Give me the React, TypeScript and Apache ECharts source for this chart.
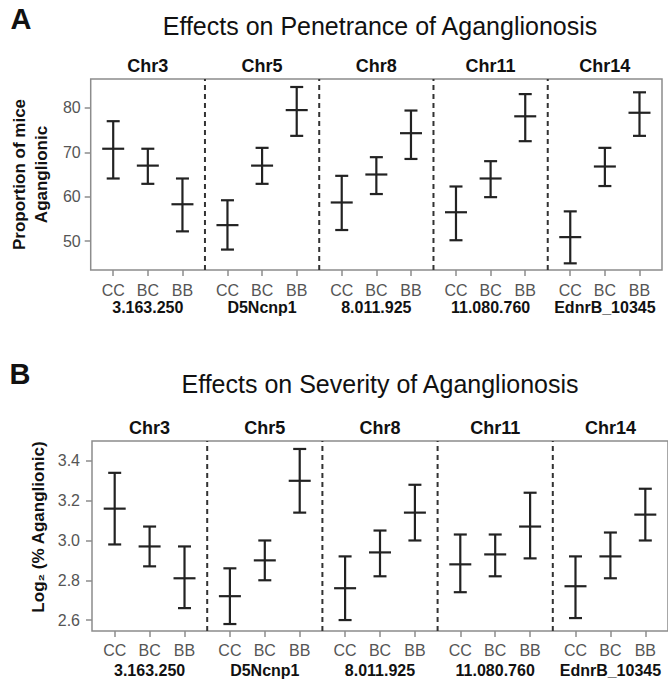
import React, { useEffect, useRef } from "react";
import * as echarts from "echarts";

const chromosomes = ["Chr3", "Chr5", "Chr8", "Chr11", "Chr14"];
const markers = ["3.163.250", "D5Ncnp1", "8.011.925", "11.080.760", "EdnrB_10345"];
const genotypes = ["CC", "BC", "BB"];

// Panel A — proportion of mice aganglionic: [chromosome][genotype]
const penetranceLow = [
  [64.1, 62.9, 52.2],
  [48.1, 62.9, 73.7],
  [52.5, 60.6, 68.5],
  [50.2, 59.9, 72.5],
  [45.0, 62.4, 73.7],
];
const penetranceMean = [
  [70.8, 67.0, 58.3],
  [53.6, 67.0, 79.5],
  [58.7, 65.0, 74.3],
  [56.5, 64.1, 78.1],
  [50.9, 66.8, 78.9],
];
const penetranceHigh = [
  [77.0, 70.8, 64.1],
  [59.2, 71.0, 84.7],
  [64.7, 68.9, 79.4],
  [62.3, 68.0, 83.1],
  [56.7, 71.0, 83.5],
];

// Panel B — log2 (% aganglionic): [chromosome][genotype]
const severityLow = [
  [2.98, 2.87, 2.66],
  [2.58, 2.8, 3.14],
  [2.6, 2.82, 3.0],
  [2.74, 2.82, 2.91],
  [2.61, 2.81, 3.0],
];
const severityMean = [
  [3.16, 2.97, 2.81],
  [2.72, 2.9, 3.3],
  [2.76, 2.94, 3.14],
  [2.88, 2.93, 3.07],
  [2.77, 2.92, 3.13],
];
const severityHigh = [
  [3.34, 3.07, 2.97],
  [2.86, 3.0, 3.46],
  [2.92, 3.05, 3.28],
  [3.03, 3.03, 3.24],
  [2.92, 3.04, 3.26],
];

const penetranceTicks = [50, 60, 70, 80];
const severityTicks = [2.6, 2.8, 3.0, 3.2, 3.4];
const penetranceRange = [43.5, 86.5];
const severityRange = [2.545, 3.5];

const SPAN = 3.3;
const OFFSET = 0.65;
const FONT = "'Liberation Sans', Arial, sans-serif";
const BAR = "#222";

const genoPos = (p: number, k: number) => p * SPAN + OFFSET + k;
const panelCenter = (p: number) => p * SPAN + SPAN / 2;

const buildData = (lo: number[][], mean: number[][], hi: number[][]) => {
  const out: number[][] = [];
  chromosomes.forEach((_, p) =>
    genotypes.forEach((_, k) => out.push([genoPos(p, k), lo[p][k], mean[p][k], hi[p][k]]))
  );
  return out;
};

const genoValues: number[] = [];
chromosomes.forEach((_, p) => genotypes.forEach((_, k) => genoValues.push(genoPos(p, k))));
const centerValues = chromosomes.map((_, p) => panelCenter(p));
const dividerValues = chromosomes.slice(1).map((_, i) => (i + 1) * SPAN);

const panelIndex = (v: number) => Math.min(chromosomes.length - 1, Math.max(0, Math.floor((v + 1e-6) / SPAN)));
const genoLabel = (v: number) => {
  const p = panelIndex(v);
  const k = Math.round(v - p * SPAN - OFFSET);
  return genotypes[k] ?? "";
};

const errorRender = (params: any, api: any) => {
  const x = api.value(0);
  const lo = api.coord([x, api.value(1)]);
  const mid = api.coord([x, api.value(2)]);
  const hi = api.coord([x, api.value(3)]);
  const style = { stroke: BAR, lineWidth: 2.2 };
  return {
    type: "group",
    children: [
      { type: "line", shape: { x1: lo[0], y1: lo[1], x2: hi[0], y2: hi[1] }, style },
      { type: "line", shape: { x1: hi[0] - 6.5, y1: hi[1], x2: hi[0] + 6.5, y2: hi[1] }, style },
      { type: "line", shape: { x1: lo[0] - 6.5, y1: lo[1], x2: lo[0] + 6.5, y2: lo[1] }, style },
      { type: "line", shape: { x1: mid[0] - 11, y1: mid[1], x2: mid[0] + 11, y2: mid[1] }, style },
    ],
  };
};

const dividerRender = (params: any, api: any) => {
  const x = api.value(0);
  const a = api.coord([x, api.value(1)]);
  const b = api.coord([x, api.value(2)]);
  return {
    type: "line",
    shape: { x1: a[0], y1: a[1], x2: b[0], y2: b[1] },
    style: { stroke: "#333", lineWidth: 2, lineDash: [5, 4] },
  };
};

const xAxesFor = (gridIndex: number, labelMargin: number, markerMargin: number, chrMargin: number) => [
  {
    gridIndex,
    type: "value",
    min: 0,
    max: SPAN * chromosomes.length,
    position: "bottom",
    axisLine: { show: false },
    splitLine: { show: false },
    axisTick: { show: true, length: 6, customValues: genoValues, lineStyle: { color: "#8c8c8c", width: 1.5 } },
    axisLabel: {
      customValues: genoValues,
      formatter: (v: number) => genoLabel(v),
      color: "#555",
      fontSize: 16,
      fontFamily: FONT,
      margin: labelMargin,
    },
  },
  {
    gridIndex,
    type: "value",
    min: 0,
    max: SPAN * chromosomes.length,
    position: "bottom",
    axisLine: { show: false },
    splitLine: { show: false },
    axisTick: { show: false },
    axisLabel: {
      customValues: centerValues,
      formatter: (v: number) => markers[panelIndex(v)],
      color: "#111",
      fontSize: 16,
      fontWeight: "bold",
      fontFamily: FONT,
      margin: markerMargin,
    },
  },
  {
    gridIndex,
    type: "value",
    min: 0,
    max: SPAN * chromosomes.length,
    position: "top",
    axisLine: { show: false },
    splitLine: { show: false },
    axisTick: { show: false },
    axisLabel: {
      customValues: centerValues,
      formatter: (v: number) => chromosomes[panelIndex(v)],
      color: "#111",
      fontSize: 18,
      fontWeight: "bold",
      fontFamily: FONT,
      margin: chrMargin,
    },
  },
];

export default function App() {
  const ref = useRef<HTMLDivElement>(null);

  useEffect(() => {
    if (!ref.current) return;
    const chart = echarts.init(ref.current, null, { renderer: "svg" });
    const gridStyle = { show: true, borderColor: "#8c8c8c", borderWidth: 1.5, backgroundColor: "transparent" };
    const option: any = {
      animation: false,
      backgroundColor: "#fff",
      grid: [
        { ...gridStyle, left: 84, top: 79, width: 578, height: 191 },
        { ...gridStyle, left: 92, top: 441, width: 583, height: 190 },
      ],
      xAxis: [...xAxesFor(0, 12, 29, 4), ...xAxesFor(1, 11, 31, 4)],
      yAxis: [
        {
          gridIndex: 0,
          type: "value",
          min: penetranceRange[0],
          max: penetranceRange[1],
          axisLine: { show: false },
          splitLine: { show: false },
          axisTick: { show: true, length: 6, customValues: penetranceTicks, lineStyle: { color: "#8c8c8c", width: 1.5 } },
          axisLabel: { customValues: penetranceTicks, color: "#555", fontSize: 16, fontFamily: FONT, margin: 10 },
          name: "Proportion of mice\nAganglionic",
          nameLocation: "middle",
          nameGap: 34,
          nameTextStyle: { fontSize: 17, fontWeight: "bold", color: "#111", fontFamily: FONT, lineHeight: 22 },
        },
        {
          gridIndex: 1,
          type: "value",
          min: severityRange[0],
          max: severityRange[1],
          axisLine: { show: false },
          splitLine: { show: false },
          axisTick: { show: true, length: 6, customValues: severityTicks, lineStyle: { color: "#8c8c8c", width: 1.5 } },
          axisLabel: {
            customValues: severityTicks,
            formatter: (v: number) => v.toFixed(1),
            color: "#555",
            fontSize: 16,
            fontFamily: FONT,
            margin: 12,
          },
          name: "Log\u2082 (% Aganglionic)",
          nameLocation: "middle",
          nameGap: 42,
          nameTextStyle: { fontSize: 17, fontWeight: "bold", color: "#111", fontFamily: FONT, padding: [0, 0, 0, 18] },
        },
      ],
      graphic: [
        { type: "text", x: 21, y: 19, style: { text: "A", fontSize: 29, fontWeight: "bold", fontFamily: FONT, fill: "#111", align: "center", verticalAlign: "middle" } },
        { type: "text", x: 380, y: 26, style: { text: "Effects on Penetrance of Aganglionosis", fontSize: 25, fontFamily: FONT, fill: "#111", align: "center", verticalAlign: "middle" } },
        { type: "text", x: 20, y: 374, style: { text: "B", fontSize: 29, fontWeight: "bold", fontFamily: FONT, fill: "#111", align: "center", verticalAlign: "middle" } },
        { type: "text", x: 380, y: 384, style: { text: "Effects on Severity of Aganglionosis", fontSize: 25, fontFamily: FONT, fill: "#111", align: "center", verticalAlign: "middle" } },
      ],
      series: [
        {
          type: "custom",
          xAxisIndex: 0,
          yAxisIndex: 0,
          data: dividerValues.map((x) => [x, penetranceRange[0], penetranceRange[1]]),
          encode: { x: 0, y: [1, 2] },
          renderItem: dividerRender,
          silent: true,
        },
        {
          type: "custom",
          xAxisIndex: 0,
          yAxisIndex: 0,
          data: buildData(penetranceLow, penetranceMean, penetranceHigh),
          encode: { x: 0, y: [1, 2, 3] },
          renderItem: errorRender,
          silent: true,
        },
        {
          type: "custom",
          xAxisIndex: 3,
          yAxisIndex: 1,
          data: dividerValues.map((x) => [x, severityRange[0], severityRange[1]]),
          encode: { x: 0, y: [1, 2] },
          renderItem: dividerRender,
          silent: true,
        },
        {
          type: "custom",
          xAxisIndex: 3,
          yAxisIndex: 1,
          data: buildData(severityLow, severityMean, severityHigh),
          encode: { x: 0, y: [1, 2, 3] },
          renderItem: errorRender,
          silent: true,
        },
      ],
    };
    chart.setOption(option);
    return () => chart.dispose();
  }, []);

  return (
    <div
      ref={ref}
      style={{ position: "fixed", left: 0, top: 0, width: 668, height: 685, background: "#fff" }}
    />
  );
}
